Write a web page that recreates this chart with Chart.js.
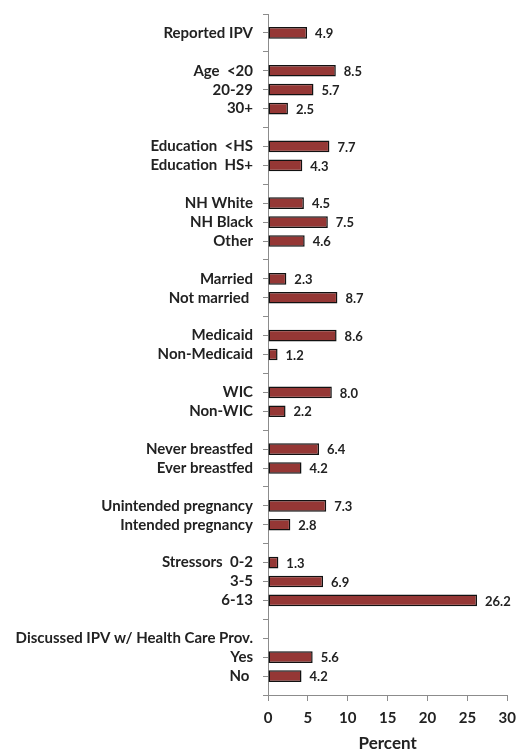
<!DOCTYPE html>
<html>
<head>
<meta charset="utf-8">
<script src="https://cdn.jsdelivr.net/npm/chart.js@4/dist/chart.umd.min.js"></script>
<style>
  html, body { margin: 0; padding: 0; background: #fff; }
  #wrap { width: 524px; height: 754px; }
</style>
</head>
<body>
<div id="wrap"><canvas id="chartIPV" width="524" height="754"></canvas></div>
<script>
/* Categorias (filas vacias separan los grupos) */
var categories = [
  '',
  'Reported IPV',
  '',
  'Age  <20', '20-29', '30+',
  '',
  'Education  <HS', 'Education  HS+',
  '',
  'NH White', 'NH Black', 'Other',
  '',
  'Married', 'Not married ',
  '',
  'Medicaid', 'Non-Medicaid',
  '',
  'WIC', 'Non-WIC',
  '',
  'Never breastfed', 'Ever breastfed',
  '',
  'Unintended pregnancy', 'Intended pregnancy',
  '',
  'Stressors  0-2', '3-5', '6-13',
  '',
  'Discussed IPV w/ Health Care Prov.', 'Yes', 'No ',
  ''
];

var percentValues = [
  null,
  4.9,
  null,
  8.5, 5.7, 2.5,
  null,
  7.7, 4.3,
  null,
  4.5, 7.5, 4.6,
  null,
  2.3, 8.7,
  null,
  8.6, 1.2,
  null,
  8.0, 2.2,
  null,
  6.4, 4.2,
  null,
  7.3, 2.8,
  null,
  1.3, 6.9, 26.2,
  null,
  null, 5.6, 4.2,
  null
];

var xTicks = [0, 5, 10, 15, 20, 25, 30];

var fontFamily = 'Lato, "Open Sans", sans-serif';

/* Etiquetas de valor a la derecha de cada barra */
var valueLabels = {
  id: 'valueLabels',
  afterDatasetsDraw: (chart) => {
    let ctx = chart.ctx;
    let meta = chart.getDatasetMeta(0);
    ctx.save();
    ctx.font = 'bold 13px ' + fontFamily;
    ctx.fillStyle = '#222';
    ctx.textAlign = 'left';
    ctx.textBaseline = 'middle';
    meta.data.forEach((bar, i) => {
      let v = percentValues[i];
      if (v === null) return;
      ctx.fillText(v.toFixed(1), bar.x + 8, bar.y + 1);
    });
    ctx.restore();
  },
};

var cipv = document.getElementById('chartIPV').getContext('2d');
var chartIPV = new Chart(cipv, {
  plugins: [valueLabels],
  type: 'bar',
  data: {
    labels: categories,
    datasets: [
      {
        data: percentValues,
        backgroundColor: '#953735',
        borderColor: '#111',
        borderWidth: 1.5,
        borderSkipped: false,
        categoryPercentage: 1,
        barPercentage: 0.62,
      },
    ],
  },
  options: {
    indexAxis: 'y',
    responsive: false,
    animation: false,
    layout: {
      padding: { top: 14, right: 12, left: 0, bottom: 0 },
    },
    scales: {
      y: {
        type: 'category',
        offset: false,
        afterFit: (scale) => {
          scale.width = 268;
          scale.paddingTop = 0;
          scale.paddingBottom = 0;
        },
        border: { color: '#8c8c8c', width: 1 },
        grid: {
          drawOnChartArea: false,
          drawTicks: true,
          tickLength: 5,
          color: '#8c8c8c',
          offset: false,
        },
        ticks: {
          autoSkip: false,
          padding: 10,
          color: '#222',
          font: { family: fontFamily, size: 15, weight: 'bold' },
        },
      },
      x: {
        min: 0,
        max: 30,
        afterBuildTicks: (scale) => {
          scale.ticks = xTicks.map((v) => ({ value: v }));
        },
        afterFit: (scale) => {
          scale.height = 59;
        },
        border: { color: '#8c8c8c', width: 1 },
        grid: {
          drawOnChartArea: false,
          drawTicks: true,
          tickLength: 6,
          color: '#8c8c8c',
        },
        ticks: {
          padding: 8,
          color: '#222',
          font: { family: fontFamily, size: 15, weight: 'bold' },
        },
        title: {
          display: true,
          text: 'Percent',
          color: '#222',
          padding: { top: 8, bottom: 0 },
          font: { family: fontFamily, size: 17, weight: 'bold' },
        },
      },
    },
    plugins: {
      legend: { display: false },
      tooltip: { enabled: false },
    },
  },
});
</script>
</body>
</html>
